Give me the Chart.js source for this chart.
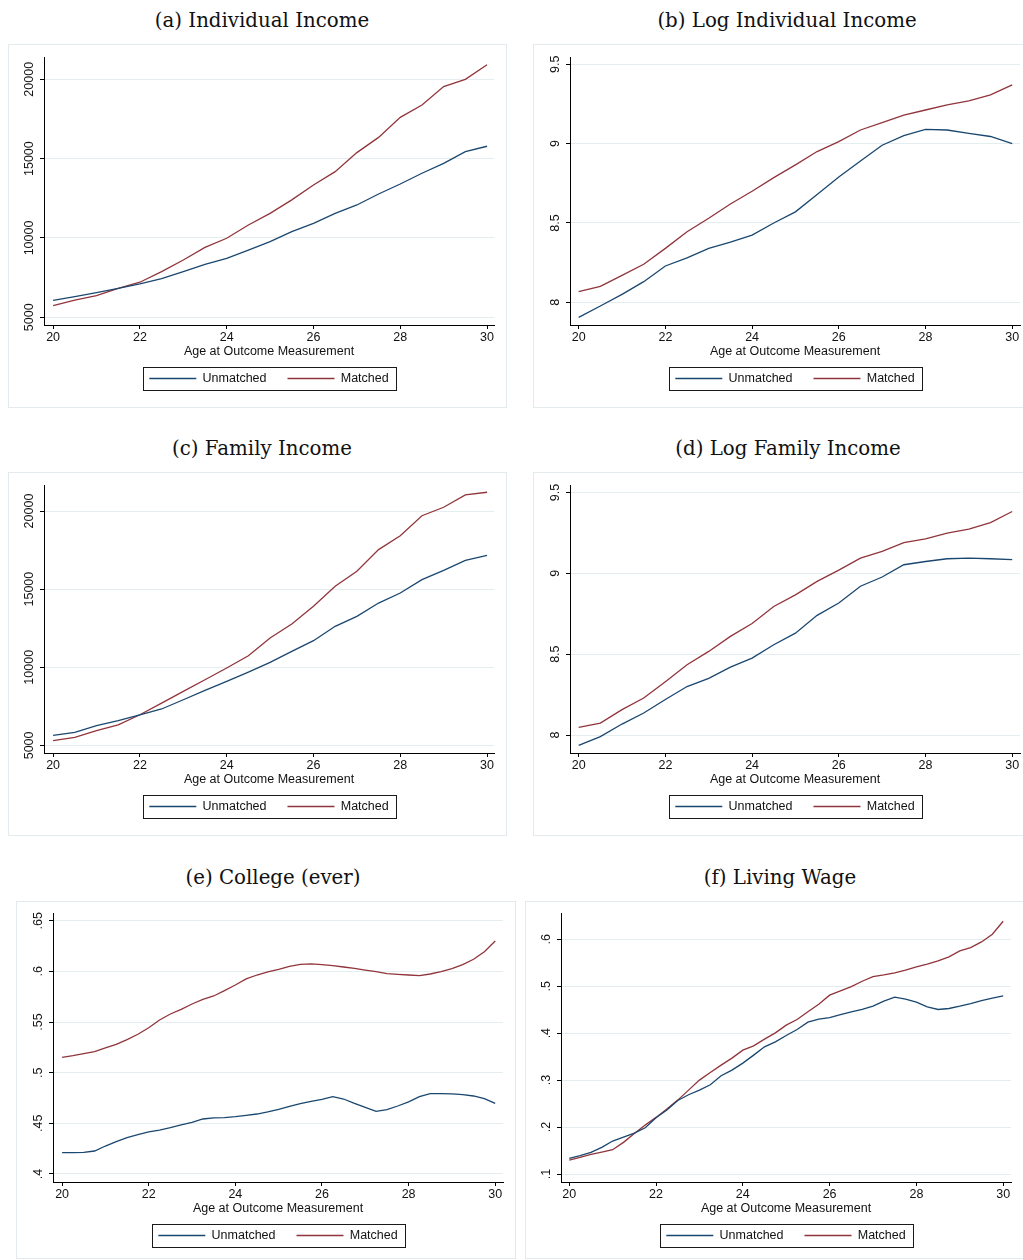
<!DOCTYPE html>
<html>
<head>
<meta charset="utf-8">
<script src="https://cdn.jsdelivr.net/npm/chart.js@4.4.1/dist/chart.umd.min.js"></script>
<style>
  body { margin: 0; background: #fff; width: 1023px; height: 1260px; overflow: hidden; position: relative; }
  .frame { position: absolute; border: 1px solid #e3eaee; box-sizing: border-box; }
  .panel { position: absolute; }
  .title { position: absolute; font-family: "DejaVu Serif", serif; font-size: 19.8px; line-height: 20px; color: #111; white-space: nowrap; transform: translateX(-50%); }
</style>
</head>
<body>
<script>
// ages on the x axis
const agesHalf = [20, 20.5, 21, 21.5, 22, 22.5, 23, 23.5, 24, 24.5, 25, 25.5, 26, 26.5, 27, 27.5, 28, 28.5, 29, 29.5, 30];
const agesQuarter = [20, 20.25, 20.5, 20.75, 21, 21.25, 21.5, 21.75, 22, 22.25, 22.5, 22.75, 23, 23.25, 23.5, 23.75,
  24, 24.25, 24.5, 24.75, 25, 25.25, 25.5, 25.75, 26, 26.25, 26.5, 26.75, 27, 27.25, 27.5, 27.75,
  28, 28.25, 28.5, 28.75, 29, 29.25, 29.5, 29.75, 30];
const ageTicks = [20, 22, 24, 26, 28, 30];

// (a) individual income
const incomeUnmatched = [6070, 6300, 6555, 6830, 7100, 7440, 7880, 8340, 8720, 9240, 9770, 10400, 10920, 11550, 12080, 12770, 13400, 14080, 14700, 15440, 15780];
const incomeMatched = [5740, 6090, 6370, 6830, 7210, 7880, 8610, 9410, 9980, 10820, 11550, 12400, 13340, 14180, 15380, 16340, 17600, 18380, 19540, 20000, 20920];
const incomeTicks = [5000, 10000, 15000, 20000];

// (b) log individual income
const logIncomeUnmatched = [7.905, 7.977, 8.05, 8.13, 8.229, 8.28, 8.34, 8.38, 8.424, 8.5, 8.57, 8.68, 8.79, 8.89, 8.99, 9.05, 9.09, 9.086, 9.065, 9.045, 9.0];
const logIncomeMatched = [8.067, 8.1, 8.17, 8.24, 8.34, 8.445, 8.53, 8.62, 8.7, 8.786, 8.866, 8.95, 9.013, 9.086, 9.132, 9.18, 9.212, 9.244, 9.27, 9.307, 9.37];
const logTicks = [8, 8.5, 9, 9.5];

// (c) family income
const famIncomeUnmatched = [5640, 5830, 6260, 6580, 6960, 7330, 7920, 8520, 9100, 9690, 10310, 11020, 11700, 12620, 13260, 14110, 14750, 15610, 16200, 16840, 17160];
const famIncomeMatched = [5300, 5510, 5940, 6320, 6960, 7710, 8460, 9200, 9950, 10740, 11870, 12770, 13900, 15180, 16140, 17530, 18420, 19700, 20240, 21030, 21200];

// (d) log family income
const logFamUnmatched = [7.936, 7.99, 8.068, 8.136, 8.22, 8.3, 8.35, 8.42, 8.476, 8.558, 8.63, 8.74, 8.816, 8.92, 8.977, 9.053, 9.073, 9.09, 9.094, 9.09, 9.084];
const logFamMatched = [8.047, 8.074, 8.157, 8.229, 8.33, 8.435, 8.517, 8.61, 8.69, 8.795, 8.867, 8.95, 9.02, 9.094, 9.135, 9.19, 9.213, 9.248, 9.273, 9.314, 9.382];

// (e) college (ever)
const collegeUnmatched = [0.4211, 0.4211, 0.4214, 0.4227, 0.4276, 0.4319, 0.4359, 0.4388, 0.4415, 0.4434, 0.4457, 0.4484, 0.451, 0.4543, 0.4553, 0.4556,
  0.4566, 0.4579, 0.4592, 0.4612, 0.4638, 0.4668, 0.4694, 0.4717, 0.4737, 0.4763, 0.474, 0.4697, 0.4658, 0.4618, 0.4635, 0.4671,
  0.4711, 0.4763, 0.4793, 0.4793, 0.479, 0.4783, 0.477, 0.4743, 0.4697];
const collegeMatched = [0.5151, 0.5168, 0.5188, 0.5207, 0.5244, 0.528, 0.5326, 0.5379, 0.5444, 0.552, 0.5579, 0.5625, 0.5678, 0.5724, 0.5757, 0.581,
  0.5865, 0.5925, 0.5964, 0.5994, 0.602, 0.605, 0.6069, 0.6073, 0.6066, 0.6056, 0.6043, 0.603, 0.6013, 0.5997, 0.5977, 0.5971,
  0.5964, 0.5958, 0.5974, 0.5997, 0.6027, 0.6066, 0.6119, 0.6194, 0.63];
const collegeTicks = [0.4, 0.45, 0.5, 0.55, 0.6, 0.65];

// (f) living wage
const wageUnmatched = [0.1333, 0.139, 0.1461, 0.1567, 0.1702, 0.1787, 0.1872, 0.1986, 0.2199, 0.2362, 0.2567, 0.2688, 0.2787, 0.2901, 0.3092, 0.3213,
  0.3362, 0.3532, 0.3709, 0.3816, 0.395, 0.4078, 0.4234, 0.4298, 0.4333, 0.4397, 0.4454, 0.4504, 0.4574, 0.4681, 0.4766, 0.4723,
  0.466, 0.456, 0.4504, 0.4525, 0.4574, 0.4631, 0.4695, 0.4745, 0.4794];
const wageMatched = [0.1298, 0.1355, 0.1418, 0.1468, 0.1518, 0.1674, 0.1865, 0.2043, 0.2206, 0.2383, 0.2574, 0.2787, 0.3, 0.3163, 0.3319, 0.3468,
  0.3638, 0.373, 0.3872, 0.4007, 0.417, 0.4291, 0.4454, 0.4617, 0.4809, 0.4901, 0.4993, 0.5106, 0.5206, 0.5241, 0.5284, 0.534,
  0.5411, 0.5468, 0.5539, 0.5624, 0.5752, 0.5823, 0.5943, 0.6106, 0.6383];
const wageTicks = [0.1, 0.2, 0.3, 0.4, 0.5, 0.6];

const panels = [
  { title: '(a) Individual Income', x: agesHalf, unmatched: incomeUnmatched, matched: incomeMatched, yTicks: incomeTicks, xMin: 19.79, xMax: 30.16, yMin: 4515, yMax: 21405 },
  { title: '(b) Log Individual Income', x: agesHalf, unmatched: logIncomeUnmatched, matched: logIncomeMatched, yTicks: logTicks, xMin: 19.8, xMax: 30.18, yMin: 7.857, yMax: 9.546 },
  { title: '(c) Family Income', x: agesHalf, unmatched: famIncomeUnmatched, matched: famIncomeMatched, yTicks: incomeTicks, xMin: 19.79, xMax: 30.16, yMin: 4514, yMax: 21664 },
  { title: '(d) Log Family Income', x: agesHalf, unmatched: logFamUnmatched, matched: logFamMatched, yTicks: logTicks, xMin: 19.8, xMax: 30.18, yMin: 7.889, yMax: 9.546 },
  { title: '(e) College (ever)', x: agesQuarter, unmatched: collegeUnmatched, matched: collegeMatched, yTicks: collegeTicks, xMin: 19.79, xMax: 30.18, yMin: 0.3921, yMax: 0.6576 },
  { title: '(f) Living Wage', x: agesQuarter, unmatched: wageUnmatched, matched: wageMatched, yTicks: wageTicks, xMin: 19.81, xMax: 30.18, yMin: 0.083, yMax: 0.6553 }
];

// where each sub-figure sits on the page
const layout = [
  { x: 8, y: 44, w: 499, h: 364, plotLeft: 36, plotTop: 13, plotRight: 486, titleX: 262, titleTop: 11 },
  { x: 533, y: 44, w: 500, h: 364, plotLeft: 37, plotTop: 13, plotRight: 487, titleX: 787, titleTop: 11 },
  { x: 8, y: 472, w: 499, h: 364, plotLeft: 36, plotTop: 13, plotRight: 486, titleX: 262, titleTop: 439 },
  { x: 533, y: 472, w: 500, h: 364, plotLeft: 37, plotTop: 13, plotRight: 487, titleX: 788, titleTop: 439 },
  { x: 16, y: 901, w: 500, h: 358, plotLeft: 37, plotTop: 12, plotRight: 487, titleX: 273, titleTop: 868 },
  { x: 525, y: 901, w: 500, h: 358, plotLeft: 36, plotTop: 12, plotRight: 486, titleX: 780, titleTop: 868 }
];

const navy = '#1a476f';
const maroon = '#90353b';
const gridColor = '#e4edf0';
const textColor = '#111';
const fontFamily = '"Liberation Sans", Arial, sans-serif';
const fontSize = 12.5;

Chart.defaults.font.family = fontFamily;
Chart.defaults.font.size = fontSize;
Chart.defaults.color = textColor;

const xAxisHeight = 26.25;
const legendHeight = 43.5;  // item 12.5 + padding 21 + 10
const plotBottom = 281;

const measure = document.createElement('canvas').getContext('2d');
measure.font = fontSize + 'px ' + fontFamily;

// stata style labels: .65 instead of 0.65
const fmt = v => {
  const s = String(+Number(v).toFixed(4));
  return s.startsWith('0.') ? s.slice(1) : s;
};

// black frame round the legend, like stata
const legendFrame = {
  id: 'legendFrame',
  afterDraw(chart) {
    const boxes = chart.legend && chart.legend.legendHitBoxes;
    if (!boxes || !boxes.length) return;
    const first = boxes[0], last = boxes[boxes.length - 1];
    const left = Math.round(first.left - 6) + 0.5;
    const right = Math.round(last.left + last.width + 7) + 0.5;
    const top = Math.round(first.top + first.height / 2 - 11.5) + 0.5;
    const ctx = chart.ctx;
    ctx.save();
    ctx.strokeStyle = '#1a1a1a';
    ctx.lineWidth = 1;
    ctx.strokeRect(left, top, right - left, 23);
    ctx.restore();
  }
};

panels.forEach((p, i) => {
  const L = layout[i];

  const frame = document.createElement('div');
  frame.className = 'frame';
  frame.style.left = L.x + 'px';
  frame.style.top = L.y + 'px';
  frame.style.width = L.w + 'px';
  frame.style.height = L.h + 'px';
  document.body.appendChild(frame);

  const title = document.createElement('div');
  title.className = 'title';
  title.textContent = p.title;
  title.style.left = L.titleX + 'px';
  title.style.top = L.titleTop + 'px';
  document.body.appendChild(title);

  const canvas = document.createElement('canvas');
  canvas.className = 'panel';
  canvas.width = L.w;
  canvas.height = L.h;
  canvas.style.left = L.x + 'px';
  canvas.style.top = L.y + 'px';
  document.body.appendChild(canvas);

  const widest = Math.max(...p.yTicks.map(v => measure.measureText(fmt(v)).width));

  new Chart(canvas, {
    type: 'line',
    data: {
      datasets: [
        { label: 'Unmatched', data: p.x.map((a, k) => ({ x: a, y: p.unmatched[k] })), borderColor: navy, backgroundColor: navy },
        { label: 'Matched', data: p.x.map((a, k) => ({ x: a, y: p.matched[k] })), borderColor: maroon, backgroundColor: maroon }
      ]
    },
    options: {
      responsive: false,
      animation: false,
      events: [],
      elements: { point: { radius: 0 }, line: { borderWidth: 1.3, tension: 0, fill: false } },
      layout: { padding: { left: 0, top: L.plotTop, right: L.w - L.plotRight, bottom: L.h - plotBottom - xAxisHeight - legendHeight } },
      scales: {
        x: {
          type: 'linear', min: p.xMin, max: p.xMax,
          afterBuildTicks: s => { s.ticks = ageTicks.map(v => ({ value: v })); },
          afterFit: s => { s.height = xAxisHeight; },
          grid: { drawOnChartArea: false, tickLength: 4, tickColor: '#000' },
          border: { color: '#000', width: 1 },
          ticks: { padding: 1, color: textColor, maxRotation: 0, callback: v => String(v) },
          title: { display: true, text: 'Age at Outcome Measurement', color: textColor, padding: { top: 0, bottom: -8.25 } }
        },
        y: {
          type: 'linear', min: p.yMin, max: p.yMax,
          afterBuildTicks: s => { s.ticks = p.yTicks.map(v => ({ value: v })); },
          afterFit: s => { s.width = L.plotLeft; },
          grid: { color: gridColor, tickColor: '#000', tickLength: 4 },
          border: { color: '#000', width: 1 },
          ticks: { minRotation: 90, maxRotation: 90, crossAlign: 'center', padding: 10 - widest / 2, color: textColor, callback: fmt }
        }
      },
      plugins: {
        tooltip: { enabled: false },
        legend: {
          position: 'bottom',
          fullSize: false,
          labels: {
            boxWidth: 47,
            boxHeight: 1.3,
            padding: 21,
            color: textColor,
            generateLabels: chart => Chart.defaults.plugins.legend.labels.generateLabels(chart).map(l => Object.assign(l, { lineWidth: 0 }))
          }
        }
      }
    },
    plugins: [legendFrame]
  });
});
</script>
</body>
</html>
